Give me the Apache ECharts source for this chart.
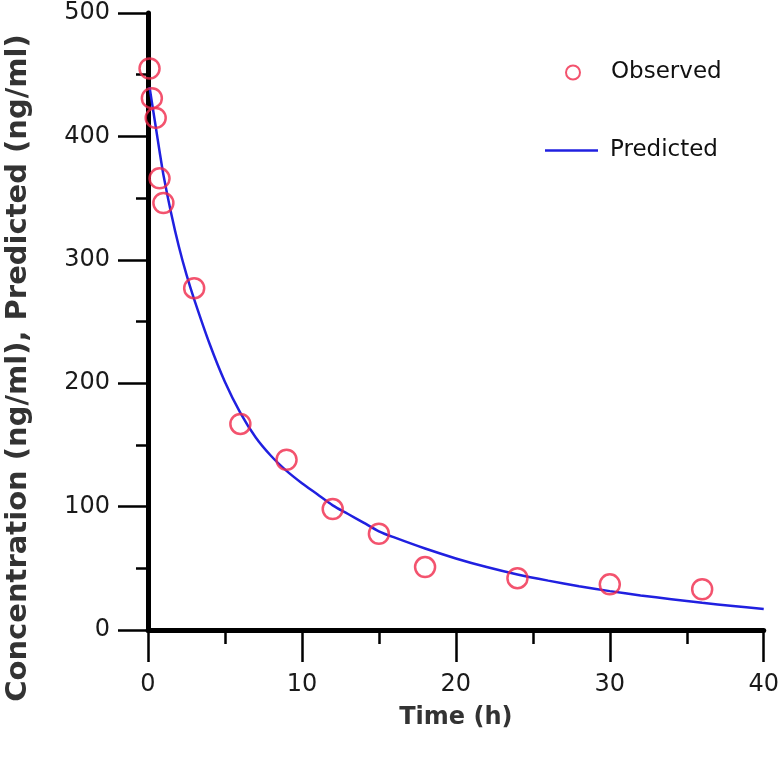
<!DOCTYPE html>
<html>
<head>
<meta charset="utf-8">
<script src="https://cdn.jsdelivr.net/npm/echarts@6/dist/echarts.min.js"></script>
<style>html,body{margin:0;padding:0;background:#fff}#c{width:782px;height:763px}</style>
</head>
<body>
<div id="c"></div>
<script>
// Observed concentrations
const obsTime = [0.1, 0.25, 0.5, 0.75, 1, 3, 6, 9, 12, 15, 18, 24, 30, 36];
const obsConc = [455, 431, 415, 366, 346, 277, 167, 138, 98, 78, 51, 42, 37, 33];
// Predicted curve
const predTime = [0.1, 0.25, 0.5, 0.75, 1, 1.5, 2, 2.5, 3, 4, 5, 6, 7, 8, 9, 10, 11, 12, 13, 14, 15, 16, 18, 20, 22, 24, 26, 28, 30, 32, 34, 36, 38, 40];
const predConc = [440, 428, 408, 388, 369, 338, 311, 288, 268, 232, 201, 176, 156, 141, 129, 119, 110, 101, 94, 87, 80, 75, 66, 58, 51, 45, 40, 35.5, 31.5, 28, 25, 22, 19.5, 17];
const xTitle = 'Time (h)';
const yTitle = 'Concentration (ng/ml), Predicted (ng/ml)';

const chart = echarts.init(document.getElementById('c'), null, {renderer: 'canvas'});
const tickFont = {fontFamily: 'DejaVu Sans', fontSize: 24, color: '#1a1a1a'};
const titleFont = {fontFamily: 'DejaVu Sans', fontWeight: 'bold', fontSize: 24, color: '#333'};
const legendText = {fontFamily: 'DejaVu Sans', fontSize: 23, color: '#111'};
chart.setOption({
  animation: false,
  backgroundColor: '#fff',
  grid: {left: 148, right: 17, top: 13, bottom: 133},
  legend: [
    {data: [{name: 'Observed', icon: 'circle'}], left: 565, top: 61, padding: 0, itemWidth: 14, itemHeight: 14,
     textStyle: Object.assign({padding: [0, 0, 0, 26]}, legendText)},
    {data: [{name: 'Predicted', icon: 'rect'}], left: 545, top: 139, padding: 0, itemWidth: 53, itemHeight: 2.5,
     textStyle: Object.assign({padding: [0, 0, 0, 7]}, legendText)}
  ],
  graphic: [{
    type: 'text', x: 18, y: 368, rotation: Math.PI / 2,
    style: {text: yTitle, font: 'bold 29px "DejaVu Sans"', fill: '#333', align: 'center', verticalAlign: 'middle'}
  }],
  xAxis: {
    type: 'value', min: 0, max: 40, interval: 10,
    name: xTitle, nameLocation: 'middle', nameGap: 76, nameTextStyle: titleFont,
    axisLine: {show: true, onZero: false, lineStyle: {color: '#000', width: 5}},
    axisTick: {show: true, length: 32, lineStyle: {color: '#000', width: 2.5}},
    minorTick: {show: true, splitNumber: 2, length: 14, lineStyle: {color: '#000', width: 2.5}},
    axisLabel: Object.assign({margin: 43}, tickFont),
    splitLine: {show: false}
  },
  yAxis: {
    type: 'value', min: 0, max: 500, interval: 100,
    axisLine: {show: true, onZero: false, lineStyle: {color: '#000', width: 5}},
    axisTick: {show: true, length: 30, lineStyle: {color: '#000', width: 2.5}},
    minorTick: {show: true, splitNumber: 2, length: 12, lineStyle: {color: '#000', width: 2.5}},
    axisLabel: Object.assign({margin: 38}, tickFont),
    splitLine: {show: false}
  },
  series: [
    {
      name: 'Predicted', type: 'line', smooth: 0.3, symbol: 'none',
      data: predTime.map((t, i) => [t, predConc[i]]),
      lineStyle: {color: '#2020e0', width: 2.5}, itemStyle: {color: '#2020e0'}, z: 2
    },
    {
      name: 'Observed', type: 'scatter', symbol: 'circle', symbolSize: 20,
      data: obsTime.map((t, i) => [t, obsConc[i]]),
      itemStyle: {color: 'rgba(255,255,255,0)', borderColor: '#f0284a', borderWidth: 2.5}, z: 3
    }
  ]
});
</script>
</body>
</html>
